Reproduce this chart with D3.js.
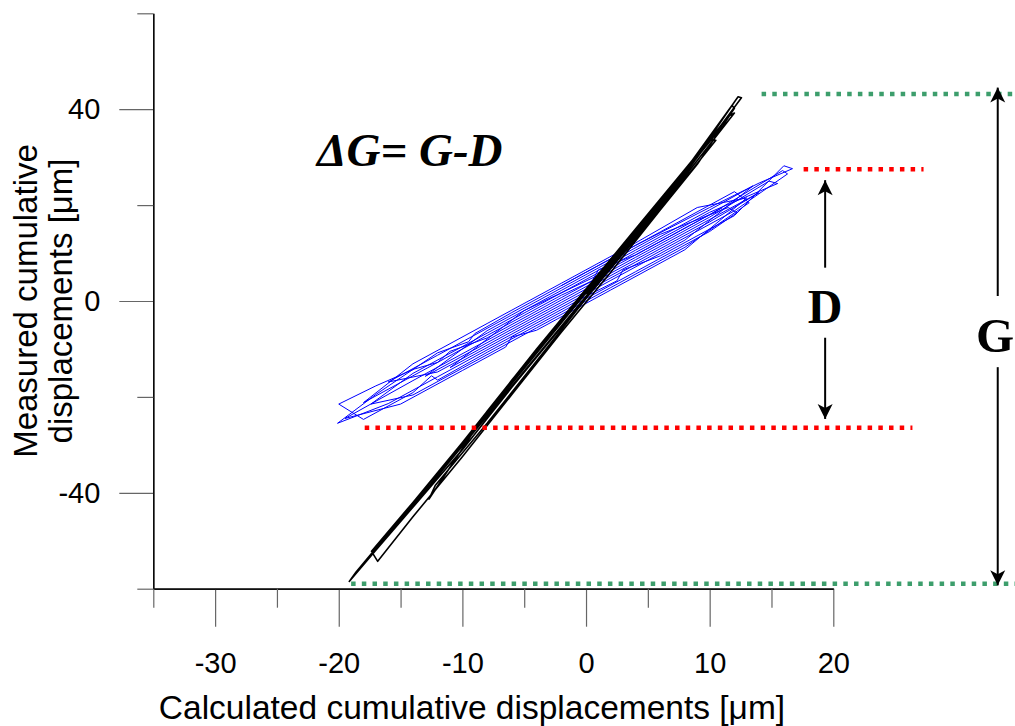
<!DOCTYPE html>
<html>
<head>
<meta charset="utf-8">
<script src="https://cdn.jsdelivr.net/npm/d3@7"></script>
<style>
  html, body { margin: 0; padding: 0; background: #fff; }
  svg { display: block; }
</style>
</head>
<body>
<svg id="chart" width="1015" height="726"></svg>
<script>
// ---- data ----
const xTicksMajor = [-30, -20, -10, 0, 10, 20];
const xTicksMinor = [-35, -25, -15, -5, 5, 15];
const yTicksMajor = [40, 0, -40];
const yTicksMinor = [60, 20, -20, -60];

const xTitle = "Calculated cumulative displacements [\u03bcm]";
const yTitleLines = ["Measured cumulative", "displacements [\u03bcm]"];

// blue trace (x = calculated, y = measured)
const blueX = [-2, 4, 10, 14, 16.7, 16.0,
  12, 6, 3, 2.5, 0, -6, -12, -16, -20.1,
  -17, -12, -9.5, -9, -6, 0, 6, 12, 13.2,
  8, 2, -4, -10, -14, -17.4,
  -14, -8, -2, 4, 10, 15.5,
  14.8, 10, 4, -2, -8, -11, -12, -13.9, -17, -20,
  -18, -14, -12.5, -12, -8, -2, 4, 10, 12.2,
  11.5, 6, 0, -6, -12, -16,
  -12, -6, 0, 6, 12, 16.3, 15.9,
  10, 4, 1, 0.5, -2, -8, -14, -18,
  -14, -8, -2, 4, 9, 13,
  8, 2, -4, -6, -6.5, -10, -15, -19.5,
  -14, -8, -2, 4, 10, 14,
  10, 4, -2, -8, -13,
  -8, -2, 4, 10, 13.5,
  8, 2, -4, -11,
  -5, 1, 7, 11];
const blueY = [3.2, 11.6, 19.5, 24.6, 27.6, 28.2,
  17.8, 9.4, 6.5, 4.2, 1, -7.4, -15.8, -21.4, -25.5,
  -19.5, -10.8, -8.5, -6.8, -2.4, 6, 14.4, 22.8, 20.5,
  11.2, 2.8, -5.6, -14, -19.6, -21.5,
  -15.1, -6.7, 1.7, 10.1, 18.5, 24.5,
  25, 17.5, 9.1, 0.7, -7.7, -10.5, -12.8, -14.2, -17.7, -21.5,
  -24.7, -19.1, -15.6, -16.5, -10.7, -2.3, 6.1, 14.5, 18.4,
  19.5, 13.9, 5.5, -2.9, -11.3, -16.9,
  -14.8, -6.4, 2, 10.4, 18.8, 26.5, 27.2,
  18, 9.6, 6.5, 4.2, 1.2, -7.2, -15.6, -21.2,
  -13.1, -4.7, 3.7, 12.1, 19.5, 21.5,
  10.7, 2.3, -6.1, -7.5, -9.6, -14.5, -21.5, -24.5,
  -16.6, -8.2, 0.2, 8.6, 17, 22.6,
  16.5, 8.1, -0.3, -8.7, -15.7,
  -6.2, 2.2, 10.6, 19, 24,
  12.7, 4.3, -4.1, -13.9,
  -2, 5.4, 13.8, 19.4];

// black trace
const blackX = [0, 4, 8, 12.57, 12.3, 12, 10, 6, 2, -2, -6, -10, -14, -17, -19.15, -18.6, -16, -12, -8, -4, 0, 4, 8, 12, 11.5, 8, 4, 0, -4, -8, -12.7, -12.2, -8, -4, 0, 4, 8, 10.5, 10, 6, 2, -2, -6, -10, -14, -17.35, -16.85, -14, -10, -6, -2, 2, 6, 9,
  12, 11.8, 8, 4, 0, -4, -8, -12, -15, -14.5, -10, -6, -2, 2, 6, 10, 11];
const blackY = [1.5, 14, 26.5, 42.4, 42.6, 41.5, 34, 20.5, 7.5, -5.5, -18, -31, -43, -52, -58.5, -56.5, -48.5, -36.5, -24, -11.5, 1, 13.5, 26, 39.2, 38.5, 27.5, 15, 2.5, -10, -23, -41.3, -38.5, -25.5, -12.5, 0.5, 13, 25.5, 33.5, 33.6, 21, 8.5, -4, -16.5, -29.5, -42, -52.2, -54.3, -45, -32.5, -19.5, -6.5, 6, 19, 28.5,
  40.2, 40.8, 27.2, 14.6, 2, -10.6, -23.2, -35.8, -45.5, -44.5, -29.8, -17.2, -4.6, 8, 20.6, 33.2, 36.5];

// reference levels
const gLevels = [43.15, -58.95];
const dLevels = [27.5, -26.45];
const formulaText = "\u0394G= G-D";
const dLabel = "D";
const gLabel = "G";

// ---- drawing ----
const SANS = "'Liberation Sans', Arial, sans-serif";
const SERIF = "'Liberation Serif', 'Times New Roman', serif";
const svg = d3.select("#chart");
const x = d3.scaleLinear().domain([-35, 20]).range([153.3, 833.3]);
const y = d3.scaleLinear().domain([-60, 60]).range([588.7, 13.3]);

const tickColor = "#666";
const fmt = d => String(d);

const yMajor = svg.append("g").attr("transform", `translate(${x(-35)},0)`)
  .call(d3.axisLeft(y).tickValues(yTicksMajor).tickSize(34).tickPadding(19).tickSizeOuter(0).tickFormat(fmt));
const yMinor = svg.append("g").attr("transform", `translate(${x(-35)},0)`)
  .call(d3.axisLeft(y).tickValues(yTicksMinor).tickSize(16).tickSizeOuter(0).tickFormat(""));
const xMajor = svg.append("g").attr("transform", `translate(0,${y(-60)})`)
  .call(d3.axisBottom(x).tickValues(xTicksMajor).tickSize(38).tickPadding(26).tickSizeOuter(0).tickFormat(fmt));
const xMinor = svg.append("g").attr("transform", `translate(0,${y(-60)})`)
  .call(d3.axisBottom(x).tickValues(xTicksMinor).tickSize(19).tickSizeOuter(0).tickFormat(""));

[yMajor, yMinor, xMajor, xMinor].forEach(g => {
  g.attr("font-family", null).attr("font-size", null);
  g.selectAll(".tick line").attr("stroke", tickColor).attr("stroke-width", 1.2);
  g.select(".domain").attr("stroke", "#000").attr("stroke-width", 1.2);
  g.selectAll("text").style("font-size", "29px").style("font-family", SANS).attr("fill", "#000");
});

svg.append("text")
  .attr("x", 472).attr("y", 719)
  .attr("text-anchor", "middle")
  .style("font-family", SANS).style("font-size", "33.5px")
  .text(xTitle);

const yt = svg.append("text")
  .attr("transform", `translate(37,${y(0)}) rotate(-90)`)
  .attr("text-anchor", "middle")
  .style("font-family", SANS).style("font-size", "33px");
yTitleLines.forEach((t, i) => {
  yt.append("tspan").attr("x", 0).attr("dy", i === 0 ? 0 : 35).text(t);
});

const line = d3.line().x(d => x(d[0])).y(d => y(d[1]));
const blue = blueX.map((v, i) => [v, blueY[i]]);
const black = blackX.map((v, i) => [v, blackY[i]]);

svg.append("path").datum(blue)
  .attr("d", line).attr("fill", "none").attr("stroke", "#0000ff").attr("stroke-width", 1)
  .attr("stroke-linejoin", "round");
svg.append("path").datum(black)
  .attr("d", line).attr("fill", "none").attr("stroke", "#000").attr("stroke-width", 1.6)
  .attr("stroke-linejoin", "round");

const green = "#3d9e6c";
const red = "#ff0000";
const dotted = (x0, x1, lev, color) => svg.append("line")
  .attr("x1", x(x0)).attr("x2", x(x1)).attr("y1", y(lev)).attr("y2", y(lev))
  .attr("stroke", color).attr("stroke-width", 4.5).attr("stroke-dasharray", "4.5,6.2");
dotted(14.2, 34.8, gLevels[0], green);
dotted(-19.0, 34.8, gLevels[1], green);
dotted(17.6, 27.3, dLevels[0], red);
dotted(-17.9, 26.4, dLevels[1], red);

const defs = svg.append("defs");
defs.append("marker")
  .attr("id", "ah").attr("markerUnits", "userSpaceOnUse")
  .attr("viewBox", "-16 -9 17 18").attr("markerWidth", 17).attr("markerHeight", 18)
  .attr("refX", 0).attr("refY", 0).attr("orient", "auto")
  .append("path").attr("d", "M0,0 L-15,-7.5 L-11,0 L-15,7.5 Z").attr("fill", "#000");

const arrow = (xv, yFrom, yTo) => svg.append("line")
  .attr("x1", x(xv)).attr("x2", x(xv)).attr("y1", y(yFrom)).attr("y2", y(yTo))
  .attr("stroke", "#000").attr("stroke-width", 2).attr("marker-end", "url(#ah)");

arrow(19.34, 6.95, 25.2);
arrow(19.34, -7.66, -24.6);
arrow(33.3, 1.04, 44.5);
arrow(33.3, -13.8, -59.3);

svg.append("text").attr("x", x(19.34)).attr("y", 323)
  .attr("text-anchor", "middle").style("font-family", SERIF)
  .style("font-weight", "bold").style("font-size", "48px").text(dLabel);
svg.append("text").attr("x", 995).attr("y", 352)
  .attr("text-anchor", "middle").style("font-family", SERIF)
  .style("font-weight", "bold").style("font-size", "49px").text(gLabel);

svg.append("text").attr("x", 317).attr("y", 166)
  .style("font-family", SERIF)
  .style("font-weight", "bold").style("font-style", "italic").style("font-size", "47px").text(formulaText);
</script>
</body>
</html>
